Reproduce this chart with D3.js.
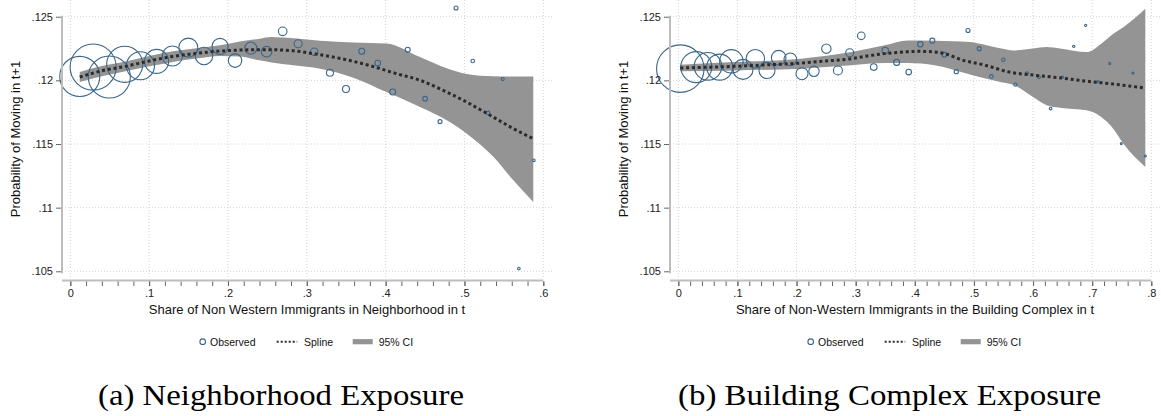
<!DOCTYPE html>
<html>
<head>
<meta charset="utf-8">
<script src="https://cdn.jsdelivr.net/npm/d3@7"></script>
<style>
  body { margin: 0; background: #fff; }
  svg { display: block; font-family: "Liberation Sans", Arial, sans-serif; }
</style>
</head>
<body>
<div id="vis"></div>
<script>
// ---- data ----

// (a) neighborhood exposure: binned observations
var nbX = [0.012, 0.029, 0.0495, 0.069, 0.089, 0.1095, 0.1295, 0.1497, 0.1696, 0.190,
           0.209, 0.229, 0.249, 0.2694, 0.289, 0.3095, 0.3294, 0.3497, 0.3697, 0.390,
           0.409, 0.428, 0.450, 0.469, 0.4893, 0.5105, 0.530, 0.5485, 0.569, 0.588];
var nbY = [0.12031, 0.12104, 0.12026, 0.12126, 0.12115, 0.12149, 0.12191, 0.12257, 0.12191, 0.12267,
           0.12155, 0.12254, 0.12225, 0.12385, 0.12288, 0.12225, 0.12060, 0.11932, 0.12228, 0.12136,
           0.11908, 0.12241, 0.11856, 0.11676, 0.12568, 0.12152, 0.11744, 0.12010, 0.10522, 0.11372];
// number of observations per bin (thousands, approx.)
var nbObs = [400, 530, 441, 324, 196, 144, 100, 90, 76, 64,
             45, 36, 28, 18.5, 16, 13.7, 12.2, 12.2, 9, 7.8,
             9, 6.2, 5.3, 4, 4, 3.2, 3.2, 2.3, 1.7, 1.7];

// (a) spline fit and 95% band
var nbSplineX = [0.012, 0.04, 0.07, 0.10, 0.13, 0.16, 0.19, 0.22, 0.25, 0.28,
                 0.31, 0.35, 0.38, 0.414, 0.444, 0.47, 0.4985, 0.53, 0.562, 0.5873];
var nbSplineY = [0.12026, 0.12075, 0.12110, 0.12152, 0.12188, 0.12212, 0.12230, 0.12239, 0.12241, 0.12234,
                 0.12208, 0.12162, 0.12116, 0.12052, 0.12000, 0.11930, 0.11843, 0.11735, 0.11621, 0.11542];
var nbCiX  = [0.012, 0.04, 0.07, 0.10, 0.13, 0.16, 0.19, 0.215, 0.24, 0.255,
              0.283, 0.317, 0.359, 0.401, 0.4436, 0.4775, 0.503, 0.537, 0.562, 0.5873];
var nbCiLo = [0.11987, 0.12033, 0.12072, 0.12110, 0.12145, 0.12172, 0.12192, 0.12188, 0.12157, 0.12140,
              0.12118, 0.12092, 0.12021, 0.11908, 0.11790, 0.11686, 0.11581, 0.11398, 0.11215, 0.11045];
var nbCiHi = [0.12065, 0.12112, 0.12148, 0.12192, 0.12228, 0.12252, 0.12275, 0.12305, 0.12327, 0.12340,
              0.12330, 0.12312, 0.12298, 0.12290, 0.12183, 0.12095, 0.12050, 0.12032, 0.12030, 0.12031];

// (b) building complex exposure: binned observations
var bcX = [0.0034, 0.0304, 0.0502, 0.070, 0.0897, 0.1094, 0.1303, 0.150, 0.1698, 0.1895,
           0.2092, 0.2295, 0.2504, 0.270, 0.2899, 0.3095, 0.3305, 0.350, 0.3693, 0.3897,
           0.4093, 0.4296, 0.450, 0.4702, 0.490, 0.509, 0.5294, 0.5497, 0.570, 0.5898,
           0.610, 0.6298, 0.6495, 0.6688, 0.689, 0.710, 0.7296, 0.7493, 0.769, 0.7899];
var bcY = [0.12092, 0.12104, 0.12110, 0.12104, 0.12149, 0.12086, 0.12170, 0.12078, 0.12178, 0.12165,
           0.12052, 0.12071, 0.12249, 0.12078, 0.12217, 0.12350, 0.12104, 0.12235, 0.12141, 0.12065,
           0.12283, 0.12312, 0.12202, 0.12068, 0.12392, 0.12249, 0.12031, 0.12162, 0.11966, 0.12055,
           0.12024, 0.11778, 0.12024, 0.12267, 0.12432, 0.11990, 0.12133, 0.11503, 0.12057, 0.11406];
var bcObs = [562, 240, 190, 169, 137, 100, 85, 64, 53, 40,
             36, 27, 22, 20, 16, 14.4, 10.9, 10.2, 9, 7.8,
             7.3, 6.2, 5.3, 4.4, 4, 4, 3.2, 2.9, 2.6, 2.3,
             2, 1.7, 1.4, 1.4, 1.2, 1, 1, 1, 1, 1];

// (b) spline fit and 95% band
var bcSplineX = [0.0034, 0.05, 0.0953, 0.15, 0.208, 0.25, 0.2926, 0.32, 0.349, 0.38,
                 0.4054, 0.43, 0.4505, 0.48, 0.518, 0.56, 0.6028, 0.645, 0.6873, 0.73, 0.7888];
var bcSplineY = [0.12097, 0.12103, 0.12110, 0.12122, 0.12136, 0.12152, 0.12170, 0.12192, 0.12210, 0.12222,
                 0.12228, 0.12224, 0.12210, 0.12160, 0.12120, 0.12065, 0.12040, 0.12020, 0.11995, 0.11974, 0.11940];
var bcCiX  = [0.0034, 0.0953, 0.208, 0.2926, 0.349, 0.3885, 0.4336, 0.4934, 0.5216, 0.5463,
              0.5666, 0.60, 0.623, 0.6456, 0.6907, 0.7154, 0.7357, 0.7527, 0.7899];
var bcCiLo = [0.12071, 0.12078, 0.12092, 0.12118, 0.12136, 0.12136, 0.12118, 0.12045, 0.12012, 0.11985,
              0.11965, 0.11869, 0.11805, 0.11785, 0.11765, 0.11712, 0.11620, 0.11503, 0.11319];
var bcCiHi = [0.12123, 0.12144, 0.12170, 0.12222, 0.12275, 0.12314, 0.12312, 0.12301, 0.12275, 0.12250,
              0.12235, 0.12250, 0.12262, 0.12250, 0.12222, 0.12288, 0.12366, 0.12418, 0.12563];

// axis ticks
var yTicks = [0.105, 0.11, 0.115, 0.12, 0.125];
var yTickLabels = [".105", ".11", ".115", ".12", ".125"];
var nbXTicks = [0, 0.1, 0.2, 0.3, 0.4, 0.5, 0.6];
var nbXTickLabels = ["0", ".1", ".2", ".3", ".4", ".5", ".6"];
var bcXTicks = [0, 0.1, 0.2, 0.3, 0.4, 0.5, 0.6, 0.7, 0.8];
var bcXTickLabels = ["0", ".1", ".2", ".3", ".4", ".5", ".6", ".7", ".8"];

var yTitle = "Probability of Moving in t+1";
var legendLabels = ["Observed", "Spline", "95% CI"];

// ---- styles ----
var markerColor = "#3b6689";
var bandColor = "#949494";
var splineColor = "#2b2b2b";
var gridColor = "#d4d4d4";
var axisColor = "#bdbdbd";

var svg = d3.select("#vis")
    .append("svg")
    .attr("width", 1161)
    .attr("height", 416);

// draws one Stata-like panel
function drawPanel(p) {
    var x = d3.scaleLinear().domain([0, p.xMax]).range([p.xLeft, p.xRight]);
    var y = d3.scaleLinear().domain([0.105, 0.125]).range([271.3, 16.7]);
    var r = d3.scaleSqrt().domain([0, 560]).range([0, 23.7]);

    var g = svg.append("g");
    var plotLeft = p.axisX, plotRight = p.axisX + 490, plotBottom = 278;

    // grid
    g.selectAll(".hgrid").data(yTicks).enter().append("line")
        .attr("x1", plotLeft).attr("x2", plotRight)
        .attr("y1", function(d) { return y(d); }).attr("y2", function(d) { return y(d); })
        .attr("stroke", gridColor).attr("stroke-dasharray", "1,2");
    g.selectAll(".vgrid").data(p.xTicks).enter().append("line")
        .attr("x1", function(d) { return x(d); }).attr("x2", function(d) { return x(d); })
        .attr("y1", 0).attr("y2", plotBottom)
        .attr("stroke", gridColor).attr("stroke-dasharray", "1,2");

    // 95% band
    var band = p.ciX.map(function(d, i) { return { x: d, lo: p.ciLo[i], hi: p.ciHi[i] }; });
    g.append("path")
        .datum(band)
        .attr("fill", bandColor)
        .attr("d", d3.area()
            .curve(d3.curveMonotoneX)
            .x(function(d) { return x(d.x); })
            .y0(function(d) { return y(d.lo); })
            .y1(function(d) { return y(d.hi); }));

    // observed bins
    var pts = p.px.map(function(d, i) { return { x: d, y: p.py[i], n: p.obs[i] }; });
    g.selectAll(".pt").data(pts).enter().append("circle")
        .attr("cx", function(d) { return x(d.x); })
        .attr("cy", function(d) { return y(d.y); })
        .attr("r", function(d) { return r(d.n); })
        .attr("fill", "none")
        .attr("stroke", markerColor)
        .attr("stroke-width", 1.1);

    // spline
    var spl = p.sx.map(function(d, i) { return { x: d, y: p.sy[i] }; });
    g.append("path")
        .datum(spl)
        .attr("fill", "none")
        .attr("stroke", splineColor)
        .attr("stroke-width", 3)
        .attr("stroke-dasharray", "3,2.8")
        .attr("d", d3.line()
            .curve(d3.curveMonotoneX)
            .x(function(d) { return x(d.x); })
            .y(function(d) { return y(d.y); }));

    // y axis
    g.append("line")
        .attr("x1", p.axisX).attr("x2", p.axisX)
        .attr("y1", y(0.125) - 1).attr("y2", y(0.105) + 2)
        .attr("stroke", axisColor).attr("stroke-width", 2);
    var yAxis = g.append("g")
        .attr("transform", "translate(" + (p.axisX - 1) + ",0)")
        .call(d3.axisLeft(y).tickValues(yTicks)
            .tickFormat(function(d, i) { return yTickLabels[i]; })
            .tickSize(5).tickPadding(3));
    yAxis.select(".domain").remove();

    // x axis
    g.append("line")
        .attr("x1", p.axisX).attr("x2", p.xRight)
        .attr("y1", 280.5).attr("y2", 280.5)
        .attr("stroke", axisColor).attr("stroke-width", 2);
    var minor = d3.range(0, Math.round(p.xMax / 0.02) + 1).map(function(i) { return i * 0.02; });
    var xMinor = g.append("g")
        .attr("transform", "translate(0,281.5)")
        .call(d3.axisBottom(x).tickValues(minor).tickFormat("").tickSize(4.5));
    xMinor.select(".domain").remove();
    var xAxis = g.append("g")
        .attr("transform", "translate(0,281.5)")
        .call(d3.axisBottom(x).tickValues(p.xTicks)
            .tickFormat(function(d, i) { return p.xTickLabels[i]; })
            .tickSize(4.5).tickPadding(3));
    xAxis.select(".domain").remove();

    g.selectAll(".tick line").attr("stroke", "#666");
    g.selectAll(".tick text")
        .attr("fill", "#222")
        .style("font-family", '"Liberation Sans", Arial, sans-serif')
        .style("font-size", "11px");

    // axis titles
    g.append("text")
        .attr("transform", "translate(" + (p.axisX - 42.5) + "," + 139 + ") rotate(-90)")
        .attr("text-anchor", "middle")
        .style("font-size", "13px")
        .attr("fill", "#111")
        .text(yTitle);
    var cx = (plotLeft + plotRight) / 2;
    g.append("text")
        .attr("x", cx).attr("y", 314)
        .attr("text-anchor", "middle")
        .style("font-size", "13px")
        .attr("fill", "#111")
        .text(p.xTitle);

    // legend
    var ly = 341.7;
    g.append("circle")
        .attr("cx", cx - 104.3).attr("cy", ly).attr("r", 2.8)
        .attr("fill", "none").attr("stroke", markerColor).attr("stroke-width", 1.1);
    g.append("line")
        .attr("x1", cx - 30.3).attr("x2", cx - 9.8)
        .attr("y1", ly).attr("y2", ly)
        .attr("stroke", splineColor).attr("stroke-width", 2)
        .attr("stroke-dasharray", "2,2");
    g.append("rect")
        .attr("x", cx + 45.7).attr("y", ly - 2.6)
        .attr("width", 20).attr("height", 5.2)
        .attr("fill", bandColor);
    var lx = [cx - 97, cx - 3, cx + 71.7];
    g.selectAll(".leg").data(legendLabels).enter().append("text")
        .attr("x", function(d, i) { return lx[i]; })
        .attr("y", ly + 3.8)
        .style("font-size", "10.5px")
        .attr("fill", "#111")
        .text(function(d) { return d; });

    // sub-caption
    svg.append("text")
        .attr("x", p.capX).attr("y", 405)
        .attr("textLength", p.capW)
        .attr("lengthAdjust", "spacingAndGlyphs")
        .style("font-family", '"Liberation Serif", "Times New Roman", serif')
        .style("font-size", "30px")
        .attr("fill", "#000")
        .text(p.caption);
}

drawPanel({
    axisX: 62, xLeft: 70.3, xRight: 543.3, xMax: 0.6,
    xTicks: nbXTicks, xTickLabels: nbXTickLabels,
    px: nbX, py: nbY, obs: nbObs,
    sx: nbSplineX, sy: nbSplineY,
    ciX: nbCiX, ciLo: nbCiLo, ciHi: nbCiHi,
    xTitle: "Share of Non Western Immigrants in Neighborhood in t",
    caption: "(a) Neighborhood Exposure", capX: 98, capW: 366
});

drawPanel({
    axisX: 670, xLeft: 678.3, xRight: 1151.3, xMax: 0.8,
    xTicks: bcXTicks, xTickLabels: bcXTickLabels,
    px: bcX, py: bcY, obs: bcObs,
    sx: bcSplineX, sy: bcSplineY,
    ciX: bcCiX, ciLo: bcCiLo, ciHi: bcCiHi,
    xTitle: "Share of Non-Western Immigrants in the Building Complex in t",
    caption: "(b) Building Complex Exposure", capX: 678, capW: 423
});
</script>
</body>
</html>
